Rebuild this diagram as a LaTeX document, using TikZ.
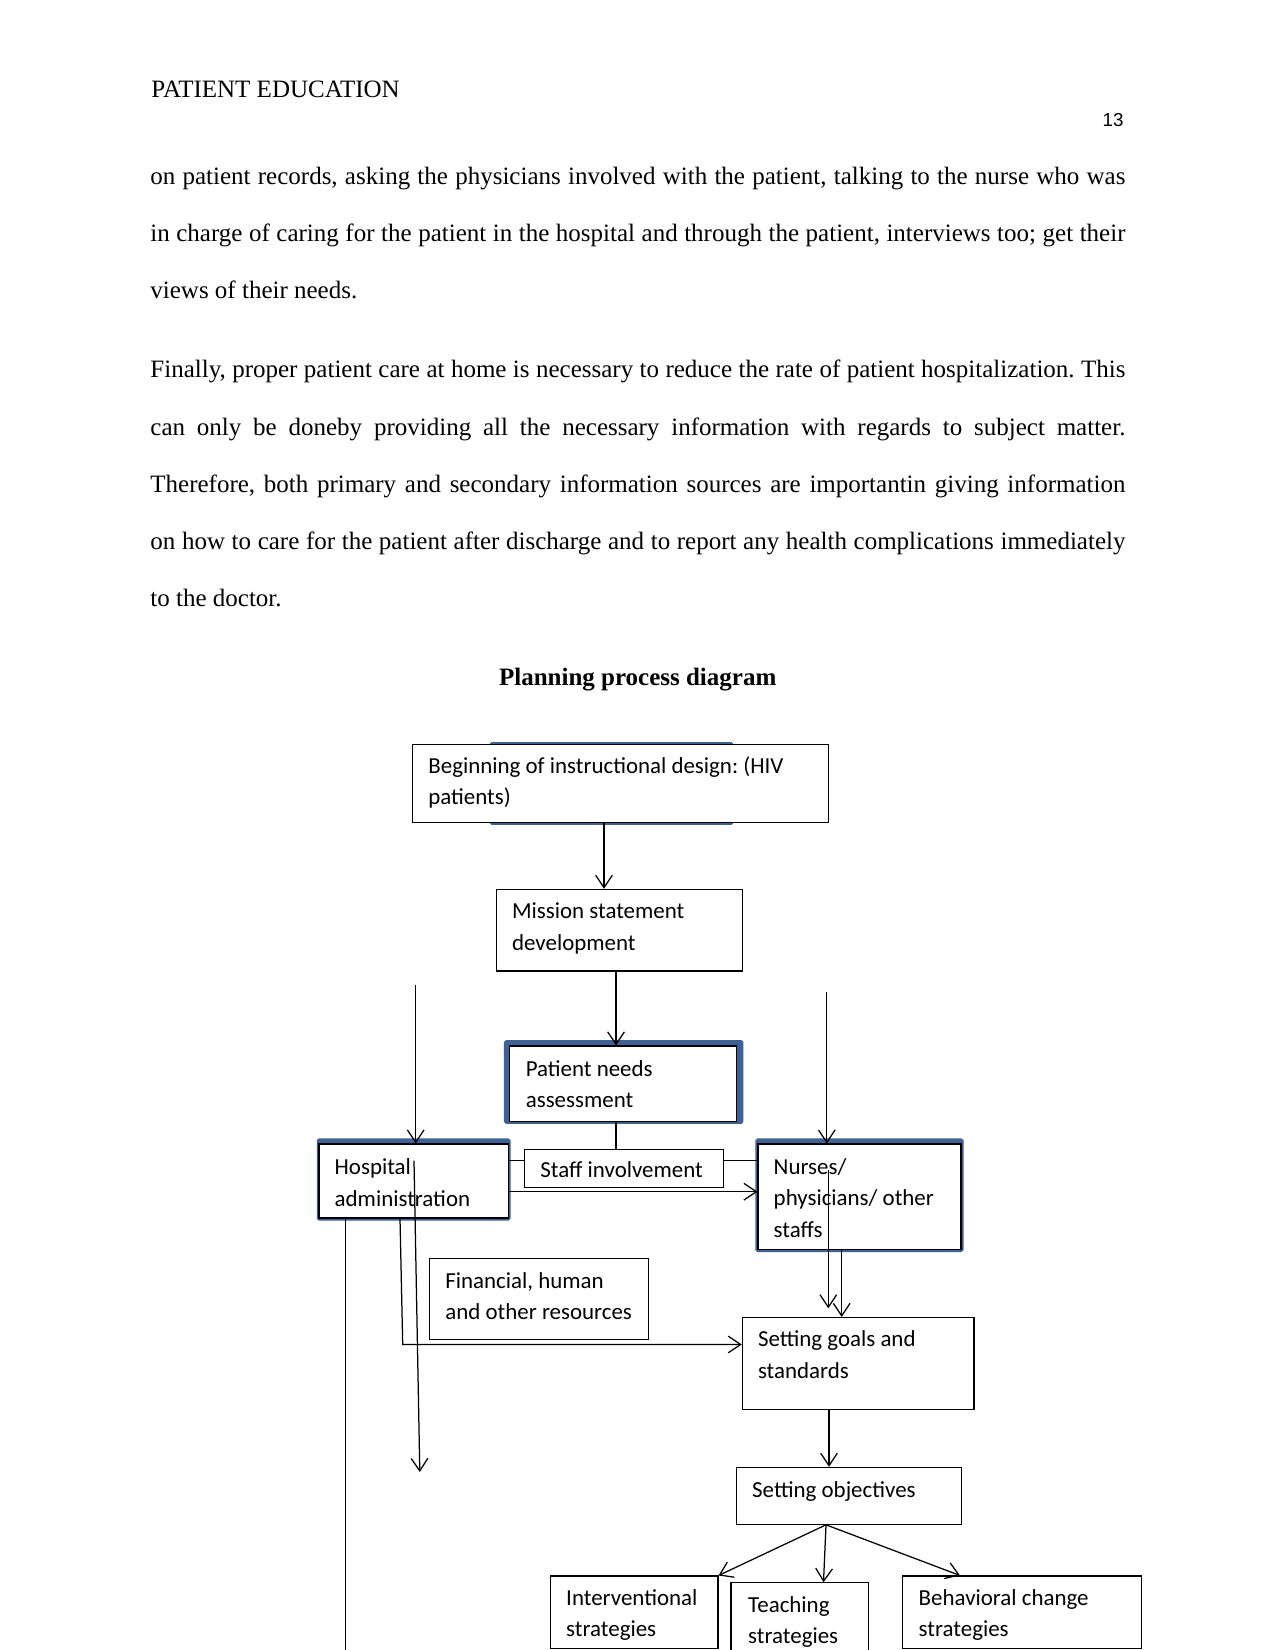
\documentclass[tikz,border=0pt]{standalone}
\usepackage{fontspec}
\setmainfont{Liberation Serif}
\newfontfamily\diagfont{Carlito}
\newfontfamily\numfont{Liberation Sans}
\usetikzlibrary{arrows.meta,fit}
\definecolor{boxblue}{RGB}{62,98,150}
\frenchspacing
\begin{document}
\begin{tikzpicture}[x=0.48pt,y=-0.48pt,
  box/.style={draw=black, line width=0.5pt, fill=white, inner sep=0pt, rectangle},
  blueback/.style={fill=boxblue, draw=boxblue, line width=0.5pt, inner sep=0pt, rectangle, rounded corners=0.8pt},
  dtext/.style={font=\diagfont\fontsize{11}{15.2}\selectfont, align=left, inner sep=0pt, anchor=base west},
  btext/.style={font=\fontsize{12}{14}\selectfont, inner sep=0pt, anchor=base west},
  conn/.style={line width=0.6pt},
  arr/.style={line width=0.6pt, -{Straight Barb[length=6pt,width=8pt]}}]
\useasboundingbox (0,0) rectangle (1275,1650);
\clip (0,0) rectangle (1275,1650);
\fill[white] (0,0) rectangle (1275,1650);

% header and body text
\node[btext] (head) at (151,97.7) {PATIENT EDUCATION};
\node[font=\numfont\fontsize{9}{11}\selectfont, anchor=base east, inner sep=0pt] (pnum) at (1124,126.7) {13};

\node[btext] (p1a) at (150,185) {\makebox[468pt][s]{on patient records, asking the physicians involved with the patient, talking to the nurse who was}};
\node[btext] (p1b) at (150,242) {\makebox[468pt][s]{in charge of caring for the patient in the hospital and through the patient, interviews too; get their}};
\node[btext] (p1c) at (150,299) {views of their needs.};

\node[btext] (p2a) at (150,378) {\makebox[468pt][s]{Finally, proper patient care at home is necessary to reduce the rate of patient hospitalization. This}};
\node[btext] (p2b) at (150,435) {\makebox[468pt][s]{can only be doneby providing all the necessary information with regards to subject matter.}};
\node[btext] (p2c) at (150,492) {\makebox[468pt][s]{Therefore, both primary and secondary information sources are importantin giving information}};
\node[btext] (p2d) at (150,549) {\makebox[468pt][s]{on how to care for the patient after discharge and to report any health complications immediately}};
\node[btext] (p2e) at (150,606) {to the doctor.};

\node[font=\bfseries\fontsize{12}{14}\selectfont, anchor=base, inner sep=0pt] (title) at (637.7,685) {Planning process diagram};

% blue backings
\node[blueback, fit={(490,742.7) (733,824.3)}] (beginbg) {};
\node[blueback, fit={(504.5,1040.7) (742.9,1123.3)}] (patientbg) {};
\node[blueback, fit={(317.3,1139) (510,1220)}] (hospbg) {};
\node[blueback, fit={(756,1139) (963,1251.5)}] (nursesbg) {};

% boxes
\node[box, fit={(412.7,744.3) (828.3,822.3)}] (begin) {};
\node[box, fit={(496.7,889.3) (742.3,971)}] (mission) {};
\node[box, fit={(509.8,1046) (736.6,1121.3)}] (patient) {};
\node[box, fit={(524.6,1149.3) (723.2,1187.3)}] (staff) {};
\node[box, fit={(319,1144) (508.5,1218)}] (hosp) {};
\node[box, fit={(758,1144) (961,1249.5)}] (nurses) {};
\node[box, fit={(429.5,1258.3) (648.2,1339.3)}] (fin) {};
\node[box, fit={(742.3,1317.5) (974,1409.3)}] (goals) {};
\node[box, fit={(736.3,1467.3) (961.3,1524.3)}] (obj) {};
\node[box, fit={(550.3,1576) (718,1648.5)}] (interv) {};
\node[box, fit={(731,1582.7) (868.3,1680)}] (teach) {};
\node[box, fit={(902.8,1576) (1141.6,1648.5)}] (behav) {};

% texts (anchor = baseline of last line)
\node[dtext] (begin-t) at (428,804.7) {Beginning of instructional design: (HIV\\patients)};
\node[dtext] (mission-t) at (511.7,950) {Mission statement\\development};
\node[dtext] (patient-t) at (525.4,1107.7) {Patient needs\\assessment};
\node[dtext] (staff-t) at (540,1177.3) {Staff involvement};
\node[dtext] (hosp-t) at (334.3,1206) {Hospital\\administration};
\node[dtext] (nurses-t) at (773.3,1237.6) {Nurses/\\physicians/ other\\staffs};
\node[dtext] (fin-t) at (445,1319.7) {Financial, human\\and other resources};
\node[dtext] (goals-t) at (757.6,1378.4) {Setting goals and\\standards};
\node[dtext] (obj-t) at (751.8,1497) {Setting objectives};
\node[dtext] (interv-t) at (565.8,1636.7) {Interventional\\strategies};
\node[dtext] (teach-t) at (747.8,1643.7) {Teaching\\strategies};
\node[dtext] (behav-t) at (918.3,1636.7) {Behavioral change\\strategies};

% helper coordinates
\coordinate (xa) at (604,0);
\coordinate (xb) at (616,0);
\coordinate (sl) at (0,1160.7);
\coordinate (ha) at (0,1191.7);
\coordinate (ltop) at (415.7,985);
\coordinate (rtop) at (826.8,992);
\coordinate (s1) at (414,1160.7);
\coordinate (s2) at (419.8,1472);
\coordinate (hg1) at (400,0);
\coordinate (hg2) at (402.7,1344.5);
\coordinate (lb) at (345.7,1660);
\coordinate (n1) at (828.3,1170);
\coordinate (n2) at (828.3,1308.3);
\coordinate (ng) at (841.7,0);
\coordinate (go) at (829,0);
\coordinate (of) at (826,0);
\coordinate (tx) at (823.5,0);
\coordinate (bx) at (960,0);

% connectors
\draw[arr] (begin.south -| xa) -- (mission.north -| xa);
\draw[arr] (mission.south -| xb) -- (patient.north -| xb);
\draw[conn] (patient.south -| xb) -- (staff.north -| xb);
\draw[conn] (hosp.east |- sl) -- (staff.west |- sl);
\draw[conn] (staff.east |- sl) -- (nurses.west |- sl);
\draw[arr] (hosp.east |- ha) -- (nurses.west |- ha);
\draw[arr] (ltop) -- (hosp.north -| ltop);
\draw[arr] (rtop) -- (nurses.north -| rtop);
\draw[arr] (s1) -- (s2);
\draw[arr] (hosp.south -| hg1) -- (hg2) -- (goals.west |- hg2);
\draw[conn] (hosp.south -| lb) -- (lb);
\draw[arr] (n1) -- (n2);
\draw[arr] (nurses.south -| ng) -- (goals.north -| ng);
\draw[arr] (goals.south -| go) -- (obj.north -| go);
\draw[arr] (obj.south -| of) -- (interv.north east);
\draw[arr] (obj.south -| of) -- (teach.north -| tx);
\draw[arr] (obj.south -| of) -- (behav.north -| bx);
\end{tikzpicture}
\end{document}
